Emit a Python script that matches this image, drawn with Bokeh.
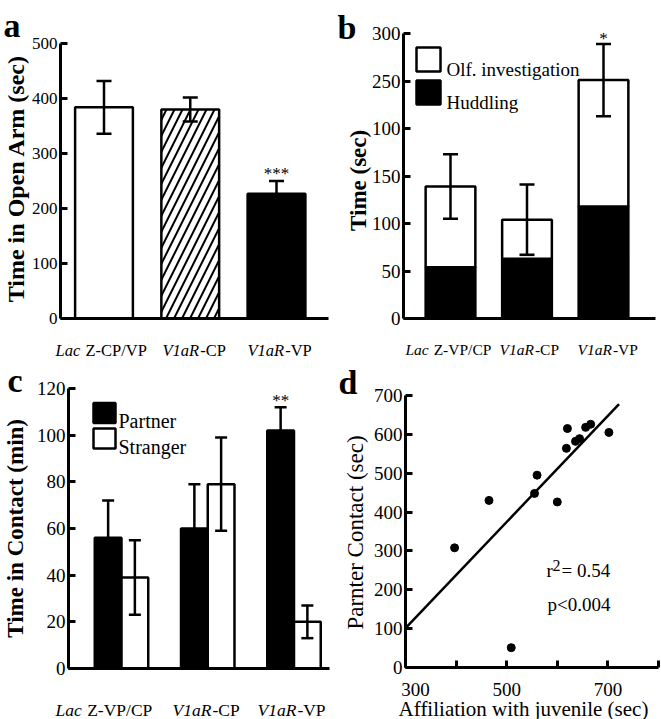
from bokeh.plotting import figure
from bokeh.models import Range1d, FixedTicker, Label, Whisker, TeeHead, ColumnDataSource
from bokeh.layouts import column, row
from bokeh.embed import file_html
from bokeh.resources import INLINE

# ---------------- data ----------------
cat_italic = ["Lac", "V1aR", "V1aR"]
a_cat_roman = [" Z-CP/VP", "-CP", "-VP"]
bc_cat_roman = [" Z-VP/CP", "-CP", "-VP"]

a_open_arm = [384, 380, 227]
a_open_arm_err = [48, 22, 23]
a_fill = ["white", "white", "black"]
a_hatch = [" ", "/", " "]
a_ticks = [0, 100, 200, 300, 400, 500]

b_huddling = [54, 63, 118]
b_olf = [85, 41, 133]
b_err = [34, 37, 38]
b_ticks = [0, 50, 100, 150, 200, 250, 300]
b_tick_labels = ["0", "50", "100", "150", "100", "250", "300"]

c_partner = [56, 60, 102]
c_partner_err = [16, 19, 10]
c_stranger = [39, 79, 20]
c_stranger_err = [16, 20, 7]
c_ticks = [0, 20, 40, 60, 80, 100, 120]

d_affiliation = [397, 465, 509, 555, 560, 600, 618, 620, 636, 644, 656, 666, 702]
d_partner_contact = [308, 430, 51, 448, 495, 426, 564, 615, 582, 589, 618, 626, 605]
d_fit_x = [302, 722]
d_fit_y = [104, 678]
d_xticks = [300, 400, 500, 600, 700, 800]
d_xtick_labels = ["300", "", "500", "", "700", ""]
d_yticks = [0, 100, 200, 300, 400, 500, 600, 700]

FONT = "Liberation Serif"

# ---------------- helpers ----------------
W_RO = {' ': .25, 'Z': .611, '-': .333, 'C': .667, 'P': .556, '/': .278, 'V': .722}
W_IT = {'L': .556, 'a': .5, 'c': .444, 'V': .611, '1': .5, 'R': .611}


def tw(s, table, fs):
    return sum(table.get(ch, .5) for ch in s) * fs


class Panel:
    """A figure whose frame is the whole canvas; axes are fixed inside it."""

    def __init__(self, ox, oy, fw, fh, xmap, ymap):
        self.ox, self.oy = ox, oy
        (xa, pxa), (xb, pxb) = xmap
        (ya, pya), (yb, pyb) = ymap
        self.kx = (pxb - pxa) / (xb - xa)
        self.ky = (pyb - pya) / (yb - ya)
        self.xa, self.pxa, self.ya, self.pya = xa, pxa, ya, pya
        x_start, x_end = self.dx(ox), self.dx(ox + fw)
        y_start, y_end = self.dy(oy + fh), self.dy(oy)
        self.p = figure(x_range=Range1d(x_start, x_end), y_range=Range1d(y_start, y_end),
                        width=fw, height=fh, min_border=0,
                        min_border_left=0, min_border_right=0, min_border_top=0, min_border_bottom=0,
                        output_backend="svg", toolbar_location=None, tools="", title=None)
        p = self.p
        p.grid.visible = False
        p.outline_line_color = None
        p.background_fill_color = "white"
        p.border_fill_color = "white"

    def dx(self, px):
        return self.xa + (px - self.pxa) / self.kx

    def dy(self, py):
        return self.ya + (py - self.pya) / self.ky

    def px(self, x):
        return self.pxa + (x - self.xa) * self.kx

    def py(self, y):
        return self.pya + (y - self.ya) * self.ky

    def label(self, px, py, text, fs, style="normal", align="left", baseline="alphabetic", angle=0):
        self.p.add_layout(Label(x=self.dx(px), y=self.dy(py), text=text,
                                text_font=FONT, text_font_size=f"{fs}px",
                                text_font_style=style, text_align=align,
                                text_baseline=baseline, text_color="black",
                                angle=angle, angle_units="deg"))

    def cat_labels(self, italics, romans, lefts_px, baseline_py, fs):
        for it, ro, left in zip(italics, romans, lefts_px):
            wi = tw(it, W_IT, fs)
            self.label(left, baseline_py, it, fs, style="italic", align="left")
            lead = tw(ro[:len(ro) - len(ro.lstrip())], W_RO, fs)
            self.label(left + wi + lead + 1, baseline_py, ro.lstrip(), fs, align="left")

    def axes(self, x_lo_px, x_hi_px, y_lo, y_hi, yticks, yfs, ylabels=None,
             xticks=None, xfs=19, xlabels=None):
        p = self.p
        x_lo, x_hi = self.dx(x_lo_px), self.dx(x_hi_px)
        ay = p.yaxis[0]
        ay.fixed_location = x_lo
        ay.bounds = (y_lo, y_hi)
        ay.ticker = FixedTicker(ticks=yticks)
        ay.axis_line_width = 3
        ay.axis_line_color = "black"
        ay.major_tick_in = 7
        ay.major_tick_out = 0
        ay.major_tick_line_width = 3
        ay.major_tick_line_color = "black"
        ay.minor_tick_line_color = None
        ay.major_label_text_font = FONT
        ay.major_label_text_font_size = f"{yfs}px"
        ay.major_label_text_color = "black"
        ay.major_label_standoff = 3
        if ylabels:
            ay.major_label_overrides = ylabels
        ax = p.xaxis[0]
        ax.fixed_location = y_lo
        ax.bounds = (x_lo, x_hi)
        ax.axis_line_width = 3
        ax.axis_line_color = "black"
        ax.minor_tick_line_color = None
        ax.major_tick_out = 0
        if xticks is None:
            ax.ticker = FixedTicker(ticks=[])
            ax.major_tick_line_color = None
            ax.major_label_text_font_size = "0px"
        else:
            ax.ticker = FixedTicker(ticks=xticks)
            ax.major_tick_in = 7
            ax.major_tick_line_width = 3
            ax.major_tick_line_color = "black"
            ax.major_label_text_font = FONT
            ax.major_label_text_font_size = f"{xfs}px"
            ax.major_label_text_color = "black"
            ax.major_label_standoff = 6
            if xlabels:
                ax.major_label_overrides = xlabels


def whisker(p, xs, lo, hi, size=15):
    src = ColumnDataSource(dict(x=xs, lo=lo, hi=hi))
    w = Whisker(source=src, base="x", lower="lo", upper="hi", line_width=2.5, line_color="black",
                upper_head=TeeHead(size=size, line_width=2.5, line_color="black"),
                lower_head=TeeHead(size=size, line_width=2.5, line_color="black"),
                level="overlay")
    p.add_layout(w)


# ---------------- panel a ----------------
A = Panel(0, 0, 330, 360, ((0, 103.5), (2, 276)), ((0, 318), (500, 43)))
pa = A.p
xs = list(range(len(a_open_arm)))
src_a = ColumnDataSource(dict(x=xs, top=a_open_arm, fill=a_fill, hatch=a_hatch))
pa.vbar(x="x", top="top", bottom=0, width=0.67, source=src_a, fill_color="fill",
        line_color="black", line_width=2.5, hatch_pattern="hatch", hatch_color="black",
        hatch_scale=16, hatch_weight=2)
whisker(pa, xs, [m - e for m, e in zip(a_open_arm, a_open_arm_err)],
        [m + e for m, e in zip(a_open_arm, a_open_arm_err)])
A.axes(60, 328, a_ticks[0], a_ticks[-1], a_ticks, 17)
A.label(3, 25, "a", 34, style="bold")
A.label(15, 178, "Time in Open Arm (sec)", 24, style="bold", align="center", baseline="middle", angle=90)
A.cat_labels(cat_italic, a_cat_roman, [55, 162, 247], 350, 16.5)
A.label(A.px(2), A.py(a_open_arm[2] + a_open_arm_err[2]) - 8, "***", 17, align="center")

# ---------------- panel b ----------------
B = Panel(330, 0, 331, 360, ((0, 450), (2, 603)), ((0, 318), (300, 33)))
pb = B.p
xs = list(range(len(b_huddling)))
b_total = [h + o for h, o in zip(b_huddling, b_olf)]
src_b = ColumnDataSource(dict(x=xs, hud=b_huddling, tot=b_total))
pb.vbar(x="x", bottom=0, top="hud", width=0.65, source=src_b, fill_color="black",
        line_color="black", line_width=2.5)
pb.vbar(x="x", bottom="hud", top="tot", width=0.65, source=src_b, fill_color="white",
        line_color="black", line_width=2.5)
whisker(pb, xs, [t - e for t, e in zip(b_total, b_err)], [t + e for t, e in zip(b_total, b_err)])
B.axes(403, 655, b_ticks[0], b_ticks[-1], b_ticks, 19,
       ylabels={t: l for t, l in zip(b_ticks, b_tick_labels)})
pb.rect(x=[B.dx(428), B.dx(428)], y=[B.dy(59), B.dy(92)], width=24, height=24,
        width_units="screen", height_units="screen", fill_color=["white", "black"],
        line_color="black", line_width=2.5)
B.label(446, 69, "Olf. investigation", 19)
B.label(446, 102, "Huddling", 19)
B.label(337, 27, "b", 34, style="bold")
B.label(358, 177, "Time  (sec)", 23, style="bold", align="center", baseline="middle", angle=90)
B.cat_labels(cat_italic, bc_cat_roman, [405, 499, 577], 349, 15.5)
B.label(B.px(2), B.py(b_total[2] + b_err[2]) - 5, "*", 17, align="center")

# ---------------- panel c ----------------
C = Panel(0, 360, 330, 359, ((0, 121), (2, 293.5)), ((0, 668), (120, 388)))
pc = C.p
xs = list(range(len(c_partner)))
xp = [x - 0.155 for x in xs]
xq = [x + 0.155 for x in xs]
pc.vbar(x=xp, top=c_partner, bottom=0, width=0.31, fill_color="black", line_color="black", line_width=2.5)
pc.vbar(x=xq, top=c_stranger, bottom=0, width=0.31, fill_color="white", line_color="black", line_width=2.5)
whisker(pc, xp, [m - e for m, e in zip(c_partner, c_partner_err)],
        [m + e for m, e in zip(c_partner, c_partner_err)], size=12)
whisker(pc, xq, [m - e for m, e in zip(c_stranger, c_stranger_err)],
        [m + e for m, e in zip(c_stranger, c_stranger_err)], size=12)
C.axes(68, 329, c_ticks[0], c_ticks[-1], c_ticks, 19)
pc.rect(x=[C.dx(104), C.dx(104)], y=[C.dy(412.5), C.dy(438)], width=22, height=20,
        width_units="screen", height_units="screen", fill_color=["black", "white"],
        line_color="black", line_width=2.5)
C.label(118, 420, "Partner", 20)
C.label(118, 446, "Stranger", 20)
C.label(7, 380, "c", 34, style="bold")
C.label(15, 525, "Time in Contact  (min)", 23, style="bold", align="center", baseline="middle", angle=90)
C.cat_labels(cat_italic, bc_cat_roman, [55, 172, 257], 709, 17.5)
C.label(C.px(xp[2]), C.py(c_partner[2] + c_partner_err[2]) - 7, "**", 17, align="center")

# ---------------- panel d ----------------
D = Panel(330, 360, 331, 359, ((300, 405), (800, 658)), ((0, 667), (700, 395)))
pd_ = D.p
pd_.line(d_fit_x, d_fit_y, line_color="black", line_width=2.5)
pd_.scatter(d_affiliation, d_partner_contact, size=8, fill_color="black", line_color="black")
D.axes(405, 658, d_yticks[0], d_yticks[-1], d_yticks, 19,
       xticks=d_xticks, xfs=19,
       xlabels={t: "" for t in d_xticks})
for t, lab in zip(d_xticks, d_xtick_labels):
    if lab:
        shift = 10 if t == d_xticks[0] else 0
        D.label(D.px(t) + shift, 689, lab, 19, align="center")
D.label(338, 382, "d", 34, style="bold")
D.label(355, 532, "Parnter Contact (sec)", 23, align="center", baseline="middle", angle=90)
D.label(523, 708, "Affiliation with juvenile (sec)", 21, align="center")
D.label(546, 570, "r", 19)
D.label(552, 565, "2", 16)
D.label(561, 570, "= 0.54", 19)
D.label(547, 604, "p<0.004", 19)

layout = column(row(pa, pb), row(pc, pd_))
open("out.html", "w").write(file_html(layout, INLINE))
